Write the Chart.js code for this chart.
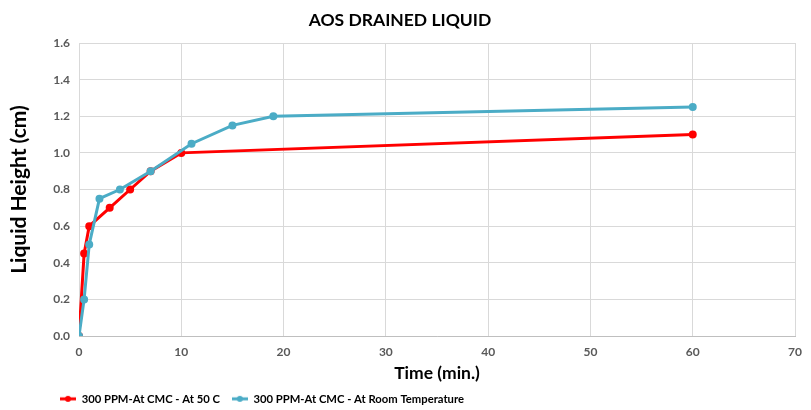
<!DOCTYPE html>
<html>
<head>
<meta charset="utf-8">
<script src="https://cdn.jsdelivr.net/npm/chart.js@4.4.1/dist/chart.umd.min.js"></script>
<style>
  html, body { margin: 0; padding: 0; background: #fff; }
  #wrap { width: 811px; height: 410px; }
</style>
</head>
<body>
<div id="wrap"><canvas id="c" width="811" height="410"></canvas></div>
<script>
const chartTitle = "AOS DRAINED LIQUID";
const xTitle = "Time (min.)";
const yTitle = "Liquid Height (cm)";
const seriesNames = ["300 PPM-At CMC - At 50 C", "300 PPM-At CMC - At Room Temperature"];

const hotTime   = [0, 0.5, 1, 3, 5, 7, 10, 60];
const hotHeight = [0, 0.45, 0.6, 0.7, 0.8, 0.9, 1.0, 1.1];

const roomTime   = [0, 0.5, 1, 2, 4, 7, 11, 15, 19, 60];
const roomHeight = [0, 0.2, 0.5, 0.75, 0.8, 0.9, 1.05, 1.15, 1.2, 1.25];

const xTicks = [0, 10, 20, 30, 40, 50, 60, 70];
const yTicks = [0, 0.2, 0.4, 0.6, 0.8, 1.0, 1.2, 1.4, 1.6];

const RED = "#FF0000";
const BLUE = "#4BACC6";
const FONT = "Lato, 'Open Sans', sans-serif";
const LEGEND_PAD = 12;
const LEGEND_SIZE = 11.25;

function pts(xs, ys) { return xs.map((x, i) => ({ x: x, y: ys[i] })); }

function legendMarker(color) {
  const c = document.createElement("canvas");
  c.width = 16; c.height = 8;
  const g = c.getContext("2d");
  g.strokeStyle = color; g.lineWidth = 3;
  g.beginPath(); g.moveTo(0, 4); g.lineTo(16, 4); g.stroke();
  g.fillStyle = color;
  g.beginPath(); g.arc(8, 4, 3, 0, Math.PI * 2); g.fill();
  return c;
}
const markers = [legendMarker(RED), legendMarker(BLUE)];

const placeLegend = {
  id: "placeLegend",
  afterLayout(chart) {
    const lg = chart.legend;
    lg.left = 60 - LEGEND_PAD;
    lg.top = 400 - LEGEND_PAD - (LEGEND_SIZE * 1.2) / 2;
  }
};

new Chart(document.getElementById("c"), {
  type: "line",
  data: {
    datasets: [
      { label: seriesNames[0], data: pts(hotTime, hotHeight), borderColor: RED, backgroundColor: RED,
        borderWidth: 3, pointRadius: 2.5, pointHoverRadius: 2.5, tension: 0, order: 2 },
      { label: seriesNames[1], data: pts(roomTime, roomHeight), borderColor: BLUE, backgroundColor: BLUE,
        borderWidth: 3, pointRadius: 2.5, pointHoverRadius: 2.5, tension: 0, order: 1 }
    ]
  },
  plugins: [placeLegend],
  options: {
    responsive: false,
    animation: false,
    layout: { padding: { left: 0, right: 11, top: 0, bottom: 0 } },
    plugins: {
      tooltip: { enabled: false },
      title: {
        display: true, text: chartTitle, color: "#000",
        font: { family: FONT, size: 17.5, weight: "bold" },
        padding: { top: 9.5, bottom: 12.5 }
      },
      legend: {
        position: "bottom", align: "start", maxHeight: 26,
        labels: {
          color: "#000", font: { family: FONT, size: LEGEND_SIZE, weight: "bold" },
          usePointStyle: true, pointStyleWidth: 16, padding: LEGEND_PAD,
          generateLabels(chart) {
            return chart.data.datasets.map((d, i) => ({
              text: d.label, pointStyle: markers[i], fillStyle: d.borderColor,
              strokeStyle: d.borderColor, lineWidth: 0, datasetIndex: i, hidden: false, fontColor: "#000"
            }));
          }
        }
      }
    },
    scales: {
      x: {
        type: "linear", min: 0, max: 70,
        afterBuildTicks(axis) { axis.ticks = xTicks.map(v => ({ value: v })); },
        afterFit(axis) { axis.height = 48; },
        grid: { color: "#D9D9D9", lineWidth: 1, drawTicks: false },
        border: { color: "#BFBFBF" },
        ticks: { color: "#595959", font: { family: FONT, size: 12, weight: "bold" }, padding: 9 },
        title: { display: true, text: xTitle, color: "#000", font: { family: FONT, size: 17.5, weight: "bold" }, padding: { top: 5, bottom: 0 } }
      },
      y: {
        type: "linear", min: 0, max: 1.6,
        afterBuildTicks(axis) { axis.ticks = yTicks.map(v => ({ value: v })); },
        afterFit(axis) { axis.width = 79; },
        grid: { color: "#D9D9D9", lineWidth: 1, drawTicks: false },
        border: { display: false },
        ticks: { color: "#595959", font: { family: FONT, size: 12, weight: "bold" }, padding: 9,
          callback: v => Number(v).toFixed(1) },
        title: { display: true, text: yTitle, color: "#000", font: { family: FONT, size: 21, weight: "bold" }, padding: { top: 7, bottom: 0 } }
      }
    }
  }
});
</script>
</body>
</html>
